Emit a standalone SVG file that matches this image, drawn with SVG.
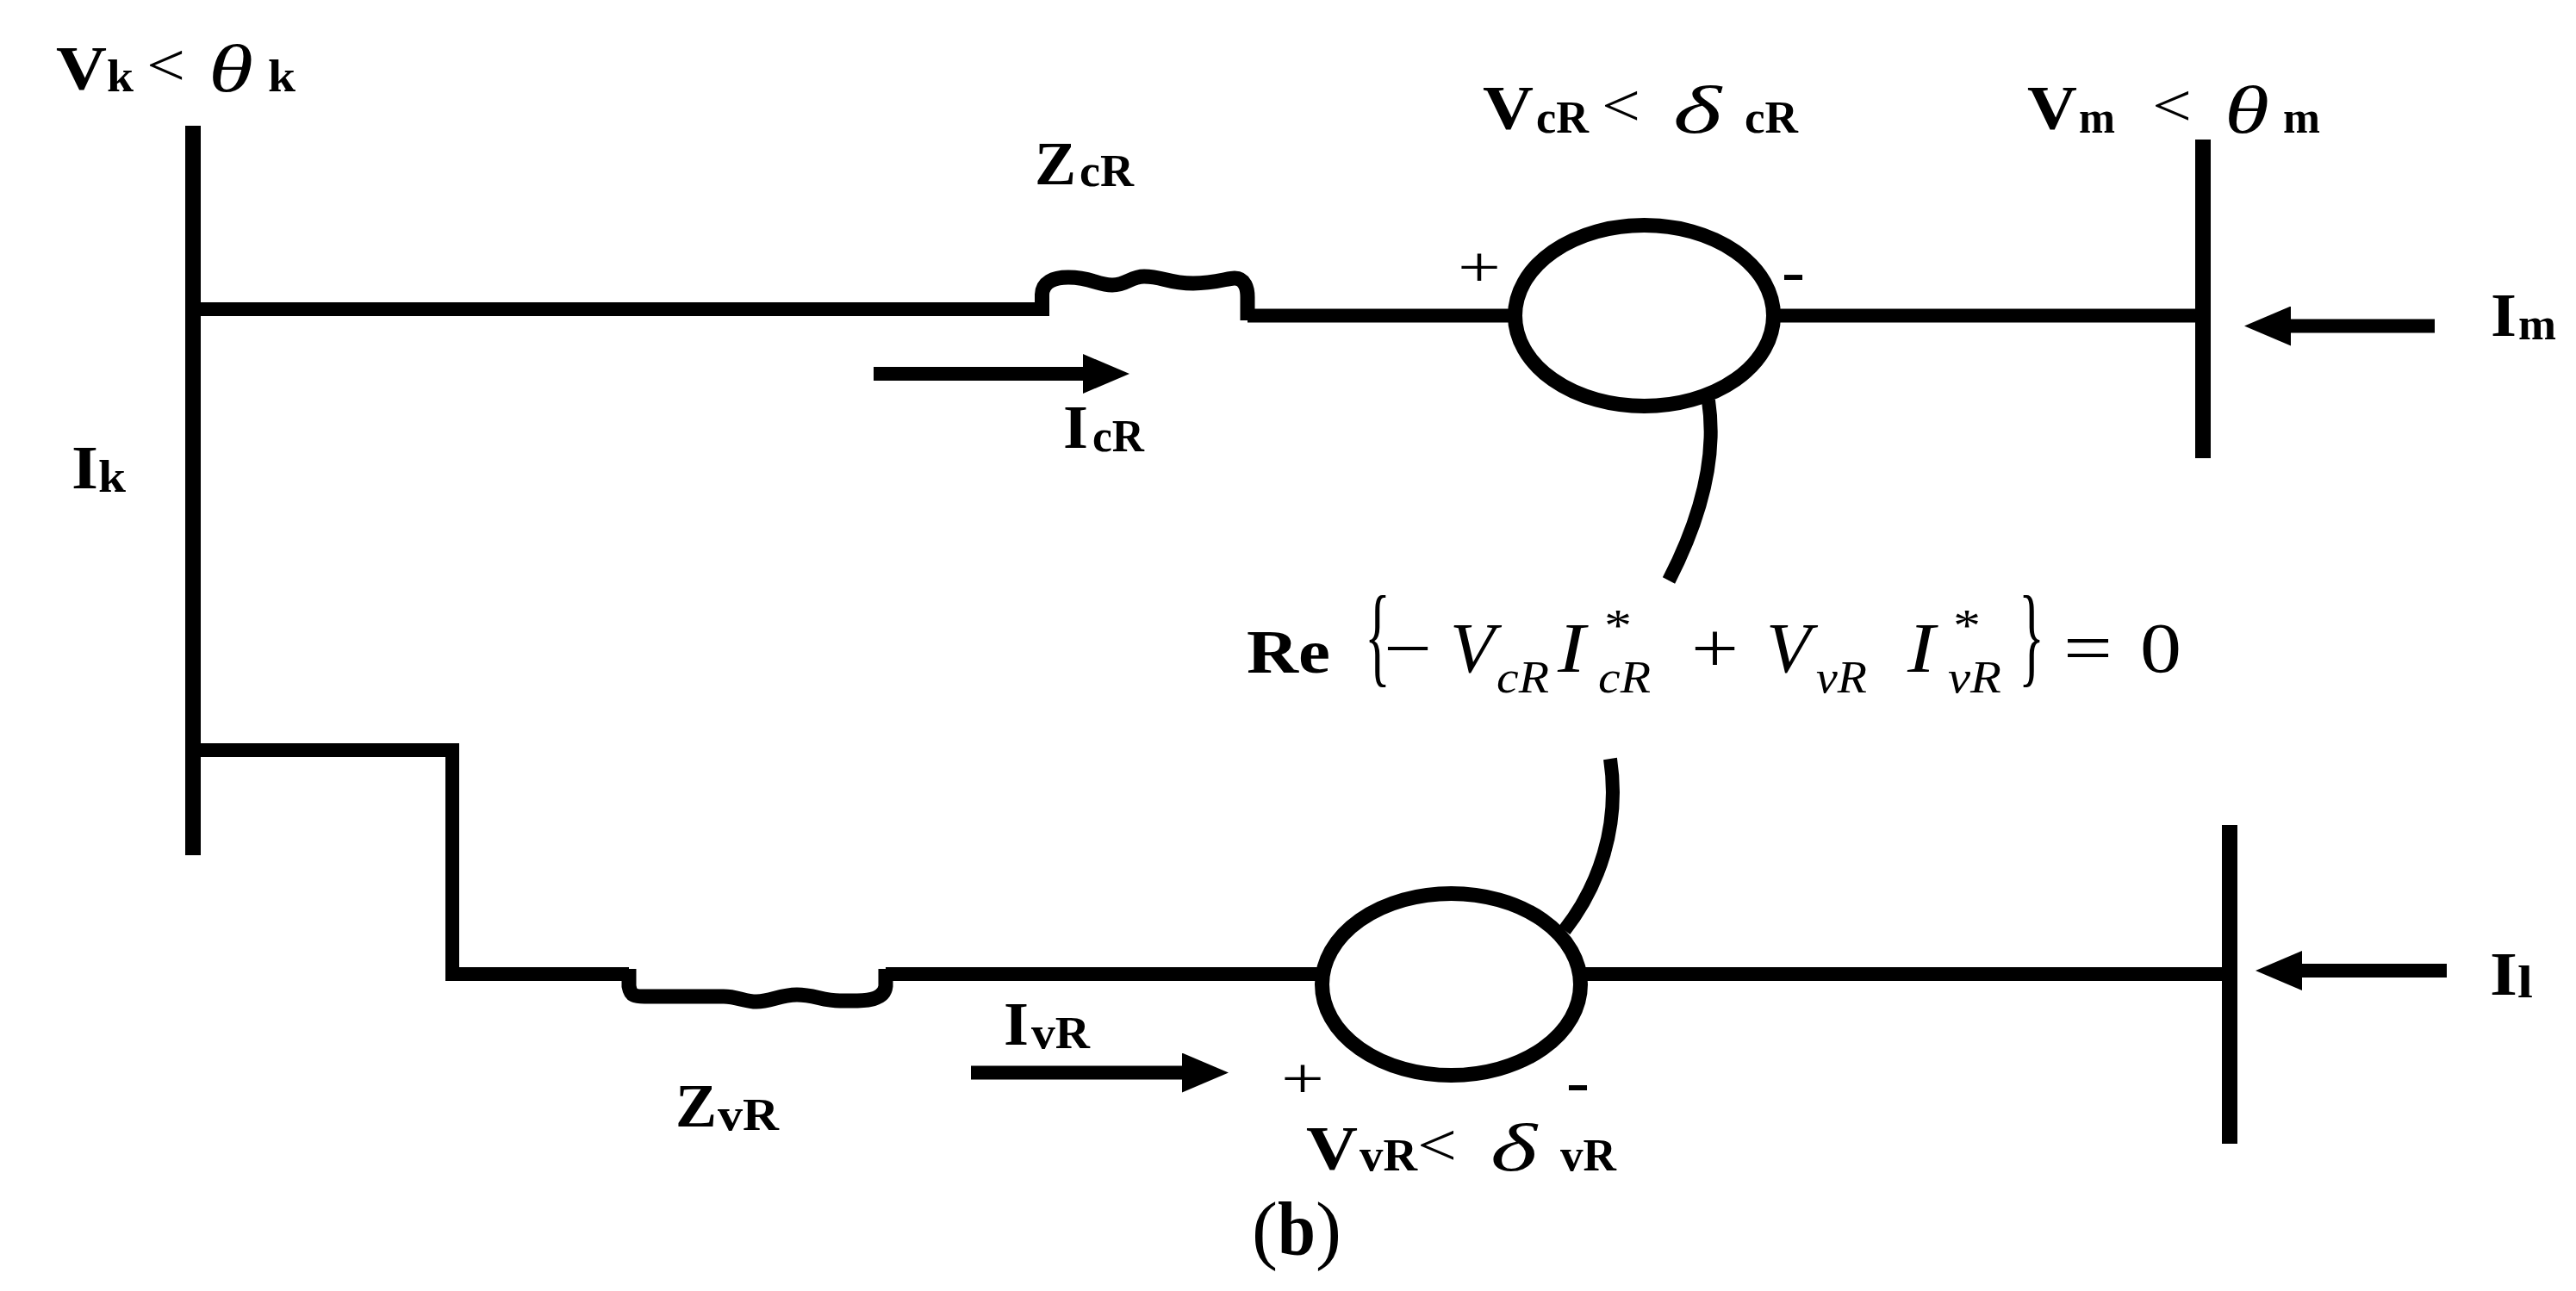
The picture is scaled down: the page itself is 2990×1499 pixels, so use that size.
<svg xmlns="http://www.w3.org/2000/svg" width="2990" height="1499" viewBox="0 0 2990 1499">
<style>
text{font-family:"Liberation Serif","Times New Roman",serif;fill:#000}
.b{font-weight:bold;font-size:72px}
.s{font-weight:bold;font-size:52px}
.t{font-style:italic;font-weight:normal;font-size:78px}
.l{font-weight:normal;font-size:70px}
.e{font-style:italic;font-weight:normal;font-size:82px}
.es{font-style:italic;font-weight:normal;font-size:52px}
.n{font-weight:normal;font-size:82px}
.p{font-weight:normal;font-size:68px}
.h{font-weight:bold;font-size:70px}
.w{fill:none;stroke:#000;stroke-width:17}
.bus{fill:none;stroke:#000;stroke-width:18}
.c{fill:none;stroke:#000;stroke-width:16}
.src{fill:#fff;stroke:#000;stroke-width:17}
.tie{fill:none;stroke:#000;stroke-width:16}
.a{stroke:#000;stroke-width:16;marker-end:url(#head)}
</style>
<defs>
<marker id="head" markerUnits="userSpaceOnUse" viewBox="0 0 54 46" markerWidth="54" markerHeight="46" refX="1" refY="23" orient="auto"><path d="M0 0L54 23L0 46z" fill="#000"/></marker>
</defs>
<rect width="2990" height="1499" fill="#fff"/>
<g id="connectors">
<path class="c" d="M233 359H1210"/>
<path class="c" d="M1448 366.500H1760"/>
<path class="c" d="M2058 366.500H2550"/>
<path class="c" d="M233 871H525V1131H730"/>
<path class="c" d="M1028 1131H1535"/>
<path class="c" d="M1835 1131H2582"/>
<path class="tie" d="M1983 465C1993 530 1975 600 1937 674"/>
<path class="tie" d="M1869 881C1881 960 1855 1030 1816 1080"/>
<line class="a" x1="1014" y1="434" x2="1258" y2="434"/>
<line class="a" x1="2826" y1="378.500" x2="2658" y2="378.500"/>
<line class="a" x1="2840" y1="1127" x2="2671" y2="1127"/>
<line class="a" x1="1127" y1="1245.500" x2="1373" y2="1245.500"/>
</g>
<g id="bus-k"><line class="bus" x1="224" y1="146" x2="224" y2="993"/>
<text><tspan class="b" x="65" y="103" textLength="59" lengthAdjust="spacingAndGlyphs">V</tspan><tspan class="s" x="124" y="106" textLength="31" lengthAdjust="spacingAndGlyphs">k</tspan><tspan class="l" x="170" y="99" textLength="45" lengthAdjust="spacingAndGlyphs">&lt;</tspan><tspan class="t" x="242" y="106" textLength="52" lengthAdjust="spacingAndGlyphs">θ</tspan><tspan class="s" x="311" y="106" textLength="32" lengthAdjust="spacingAndGlyphs">k</tspan></text>
<text><tspan class="b" x="83" y="567" textLength="31" lengthAdjust="spacingAndGlyphs">I</tspan><tspan class="s" x="114" y="571" textLength="32" lengthAdjust="spacingAndGlyphs">k</tspan></text></g>
<g id="bus-m"><line class="bus" x1="2557" y1="162" x2="2557" y2="532"/>
<text><tspan class="b" x="2353" y="149" textLength="58" lengthAdjust="spacingAndGlyphs">V</tspan><tspan class="s" x="2413" y="154" textLength="42" lengthAdjust="spacingAndGlyphs">m</tspan><tspan class="l" x="2498" y="146" textLength="46" lengthAdjust="spacingAndGlyphs">&lt;</tspan><tspan class="t" x="2582" y="154" textLength="52" lengthAdjust="spacingAndGlyphs">θ</tspan><tspan class="s" x="2650" y="154" textLength="43" lengthAdjust="spacingAndGlyphs">m</tspan></text>
<text><tspan class="b" x="2891" y="390" textLength="30" lengthAdjust="spacingAndGlyphs">I</tspan><tspan class="s" x="2923" y="394" textLength="44" lengthAdjust="spacingAndGlyphs">m</tspan></text></g>
<g id="bus-l"><line class="bus" x1="2588" y1="958" x2="2588" y2="1328"/>
<text><tspan class="b" x="2890" y="1155" textLength="32" lengthAdjust="spacingAndGlyphs">I</tspan><tspan class="s" x="2922" y="1158" textLength="18" lengthAdjust="spacingAndGlyphs">l</tspan></text></g>
<g id="z-cr"><path class="w" d="M1209.500 367V342C1210 328 1222 322 1240 322C1268 322 1272 331 1291 331C1308 331 1312 321 1328 321C1350 321 1355 329 1385 329C1410 329 1425 323 1433 323C1445 323 1448 335 1448 345V372"/>
<text><tspan class="b" x="1201" y="214" textLength="48" lengthAdjust="spacingAndGlyphs">Z</tspan><tspan class="s" x="1253" y="216" textLength="63" lengthAdjust="spacingAndGlyphs">cR</tspan></text>
<text><tspan class="b" x="1234" y="520" textLength="29" lengthAdjust="spacingAndGlyphs">I</tspan><tspan class="s" x="1268" y="524" textLength="60" lengthAdjust="spacingAndGlyphs">cR</tspan></text></g>
<g id="z-vr"><path class="w" d="M730 1125V1145C732 1157 738 1157 748 1157L840 1157C855 1157 865 1163 878 1163C895 1163 905 1155 925 1155C945 1155 955 1162 975 1162C995 1162 1026 1165 1028 1145V1125"/>
<text><tspan class="b" x="784" y="1308" textLength="48" lengthAdjust="spacingAndGlyphs">Z</tspan><tspan class="s" x="833" y="1312" textLength="71" lengthAdjust="spacingAndGlyphs">vR</tspan></text>
<text><tspan class="b" x="1165" y="1213" textLength="29" lengthAdjust="spacingAndGlyphs">I</tspan><tspan class="s" x="1197" y="1217" textLength="68" lengthAdjust="spacingAndGlyphs">vR</tspan></text></g>
<g id="source-cr"><ellipse class="src" cx="1908.500" cy="366.500" rx="150" ry="105"/>
<text class="p" x="1692" y="333" textLength="50" lengthAdjust="spacingAndGlyphs">+</text>
<text class="h" x="2068" y="339" textLength="27" lengthAdjust="spacingAndGlyphs">-</text>
<text><tspan class="b" x="1721" y="149" textLength="59" lengthAdjust="spacingAndGlyphs">V</tspan><tspan class="s" x="1783" y="154" textLength="61" lengthAdjust="spacingAndGlyphs">cR</tspan><tspan class="l" x="1859" y="146" textLength="45" lengthAdjust="spacingAndGlyphs">&lt;</tspan><tspan class="t" x="1942" y="154" textLength="56" lengthAdjust="spacingAndGlyphs">δ</tspan><tspan class="s" x="2025" y="154" textLength="62" lengthAdjust="spacingAndGlyphs">cR</tspan></text></g>
<g id="source-vr"><ellipse class="src" cx="1684.500" cy="1143" rx="150" ry="105.500"/>
<text class="p" x="1487" y="1275" textLength="50" lengthAdjust="spacingAndGlyphs">+</text>
<text class="h" x="1818" y="1280" textLength="27" lengthAdjust="spacingAndGlyphs">-</text>
<text><tspan class="b" x="1516" y="1357" textLength="60" lengthAdjust="spacingAndGlyphs">V</tspan><tspan class="s" x="1578" y="1359" textLength="67" lengthAdjust="spacingAndGlyphs">vR</tspan><tspan class="l" x="1645" y="1353" textLength="46" lengthAdjust="spacingAndGlyphs">&lt;</tspan><tspan class="t" x="1730" y="1359" textLength="54" lengthAdjust="spacingAndGlyphs">δ</tspan><tspan class="s" x="1811" y="1359" textLength="65" lengthAdjust="spacingAndGlyphs">vR</tspan></text></g>
<g id="equation"><text><tspan class="b" x="1447" y="781" textLength="97" lengthAdjust="spacingAndGlyphs">Re</tspan><tspan class="n" x="1584" y="781" style="font-size:130px" textLength="30" lengthAdjust="spacingAndGlyphs">{</tspan><tspan class="n" x="1606" y="780" textLength="56" lengthAdjust="spacingAndGlyphs">−</tspan><tspan class="e" x="1683" y="780" textLength="52" lengthAdjust="spacingAndGlyphs">V</tspan><tspan class="es" x="1737" y="804" textLength="61" lengthAdjust="spacingAndGlyphs">cR</tspan><tspan class="e" x="1808" y="780" textLength="32" lengthAdjust="spacingAndGlyphs">I</tspan><tspan class="es" x="1859" y="744" textLength="32" lengthAdjust="spacingAndGlyphs">*</tspan><tspan class="es" x="1855" y="804" textLength="61" lengthAdjust="spacingAndGlyphs">cR</tspan><tspan class="n" x="1963" y="780" textLength="55" lengthAdjust="spacingAndGlyphs">+</tspan><tspan class="e" x="2050" y="780" textLength="52" lengthAdjust="spacingAndGlyphs">V</tspan><tspan class="es" x="2108" y="804" textLength="59" lengthAdjust="spacingAndGlyphs">vR</tspan><tspan class="e" x="2214" y="780" textLength="32" lengthAdjust="spacingAndGlyphs">I</tspan><tspan class="es" x="2264" y="744" textLength="32" lengthAdjust="spacingAndGlyphs">*</tspan><tspan class="es" x="2261" y="804" textLength="62" lengthAdjust="spacingAndGlyphs">vR</tspan><tspan class="n" x="2343" y="781" style="font-size:130px" textLength="30" lengthAdjust="spacingAndGlyphs">}</tspan><tspan class="n" x="2395" y="780" textLength="57" lengthAdjust="spacingAndGlyphs">=</tspan><tspan class="n" x="2484" y="780" textLength="48" lengthAdjust="spacingAndGlyphs">0</tspan></text></g>
<g id="caption"><text><tspan x="1453" y="1457" style="font-size:88px" textLength="30" lengthAdjust="spacingAndGlyphs">(</tspan><tspan x="1483" y="1457" style="font-size:88px;font-weight:bold" textLength="44" lengthAdjust="spacingAndGlyphs">b</tspan><tspan x="1527" y="1457" style="font-size:88px" textLength="30" lengthAdjust="spacingAndGlyphs">)</tspan></text></g>
</svg>
